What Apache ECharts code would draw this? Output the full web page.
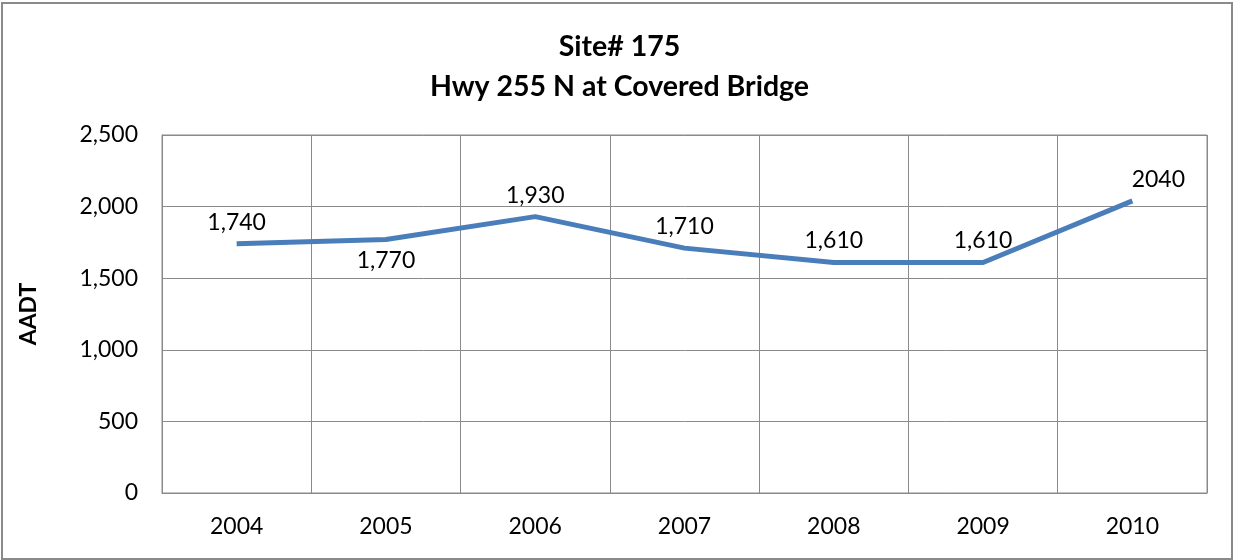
<!DOCTYPE html>
<html>
<head>
<meta charset="utf-8">
<script src="https://cdn.jsdelivr.net/npm/echarts@6/dist/echarts.min.js"></script>
<style>
  html, body { margin: 0; padding: 0; background: #fff; }
  #chart { width: 1239px; height: 560px; }
</style>
</head>
<body>
<div id="chart"></div>
<script>
  const years = ['2004', '2005', '2006', '2007', '2008', '2009', '2010']
  const aadt = [1740, 1770, 1930, 1710, 1610, 1610, 2040]
  const labelText = ['1,740', '1,770', '1,930', '1,710', '1,610', '1,610', '2040']
  const labelBelow = [false, true, false, false, false, false, false]

  const font = 'Lato, "Open Sans", sans-serif'
  const gray = '#8a8a8a'

  const chart = echarts.init(document.getElementById('chart'))

  chart.setOption({
    animation: false,
    textStyle: { fontFamily: font },
    title: {
      text: 'Site# 175\nHwy 255 N at Covered Bridge',
      left: 'center',
      top: 22,
      textStyle: {
        fontFamily: font,
        fontSize: 28.5,
        fontWeight: 'bold',
        color: '#000',
        lineHeight: 40
      }
    },
    graphic: [{
      type: 'rect',
      shape: { x: 2, y: 3, width: 1230, height: 556 },
      style: { fill: 'none', stroke: gray, lineWidth: 2 },
      silent: true
    }],
    grid: {
      left: 162,
      right: 32,
      top: 135,
      bottom: 67,
      show: true,
      borderColor: gray,
      borderWidth: 1
    },
    xAxis: {
      type: 'category',
      data: years,
      boundaryGap: true,
      axisLine: { lineStyle: { color: gray, width: 1 } },
      axisTick: { show: false },
      axisLabel: { fontSize: 23, color: '#000', margin: 22, fontFamily: font },
      splitLine: { show: true, interval: 0, lineStyle: { color: gray, width: 1 } }
    },
    yAxis: {
      type: 'value',
      min: 0,
      max: 2500,
      interval: 500,
      name: 'AADT',
      nameLocation: 'middle',
      nameGap: 122,
      nameRotate: 90,
      nameTextStyle: { fontSize: 23, fontWeight: 'bold', color: '#000', fontFamily: font },
      axisLine: { show: true, lineStyle: { color: gray, width: 1 } },
      axisTick: { show: false },
      axisLabel: {
        fontSize: 23,
        color: '#000',
        margin: 24,
        fontFamily: font,
        formatter: v => v.toLocaleString('en-US')
      },
      splitLine: { show: true, lineStyle: { color: gray, width: 1 } }
    },
    series: [{
      type: 'line',
      data: aadt.map((v, i) => ({
        value: v,
        label: {
          position: labelBelow[i] ? 'bottom' : 'top',
          formatter: labelText[i],
          // the last label sits a little to the right in the original
          offset: i === aadt.length - 1 ? [26, 0] : [0, 0]
        }
      })),
      symbol: 'circle',
      symbolSize: 0,
      showSymbol: true,
      itemStyle: { color: '#4a7ebb' },
      lineStyle: { color: '#4a7ebb', width: 5 },
      label: {
        show: true,
        fontSize: 23,
        color: '#000',
        distance: 10,
        fontFamily: font
      }
    }]
  })
</script>
</body>
</html>
